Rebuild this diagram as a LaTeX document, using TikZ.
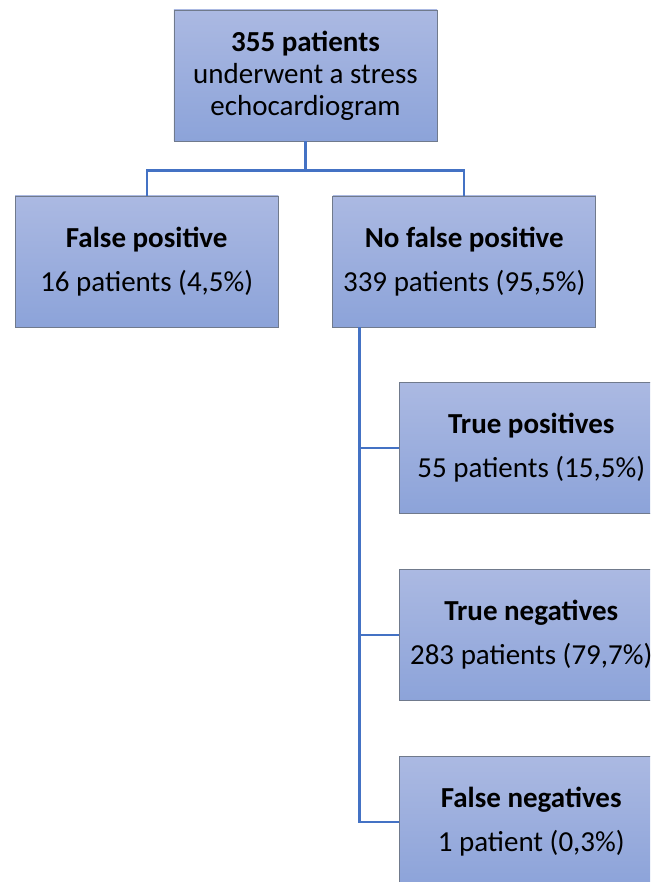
\documentclass[tikz,border=0pt]{standalone}
\usepackage{fontspec}
\setmainfont{Carlito}
\usetikzlibrary{trees}
\definecolor{boxtop}{RGB}{171,185,226}
\definecolor{boxbottom}{RGB}{140,163,217}
\definecolor{boxline}{RGB}{112,122,140}
\definecolor{connblue}{RGB}{68,114,196}

\begin{document}
\begin{tikzpicture}
[every node/.style={shape=rectangle,draw=boxline,line width=0.9pt,%
    top color=boxtop,bottom color=boxbottom,align=center,inner sep=0pt,%
    minimum width=263pt,minimum height=131pt},%
  edge from parent/.style={draw=connblue,line width=2.4pt},%
  level 1/.style={sibling distance=317.5pt,level distance=186pt,%
    edge from parent path={(\tikzparentnode.south) -- ++(0,-29pt) -| (\tikzchildnode.north)}},%
  level 2/.style={grow via three points={one child at (67pt,-186.5pt) and
      two children at (67pt,-186.5pt) and (67pt,-373.5pt)},%
    edge from parent path={([xshift=27pt]\tikzparentnode.south west) |- (\tikzchildnode.west)}}]
\fontsize{29}{32}\selectfont
\clip (-305.5pt,75.5pt) rectangle (344.5pt,-806.5pt);
\node (root) {\textbf{355 patients}\\underwent a stress\\echocardiogram}
  child {node (fpos) {\textbf{False positive}\\[12pt]16 patients (4,5\%)}}
  child {node (nofpos) {\textbf{No false positive}\\[12pt]339 patients (95,5\%)}
    child {node (tpos) {\textbf{True positives}\\[12pt]55 patients (15,5\%)}}
    child {node (tneg) {\textbf{True negatives}\\[12pt]283 patients (79,7\%)}}
    child {node (fneg) {\textbf{False negatives}\\[12pt]1 patient (0,3\%)}}
  };
\end{tikzpicture}
\end{document}
